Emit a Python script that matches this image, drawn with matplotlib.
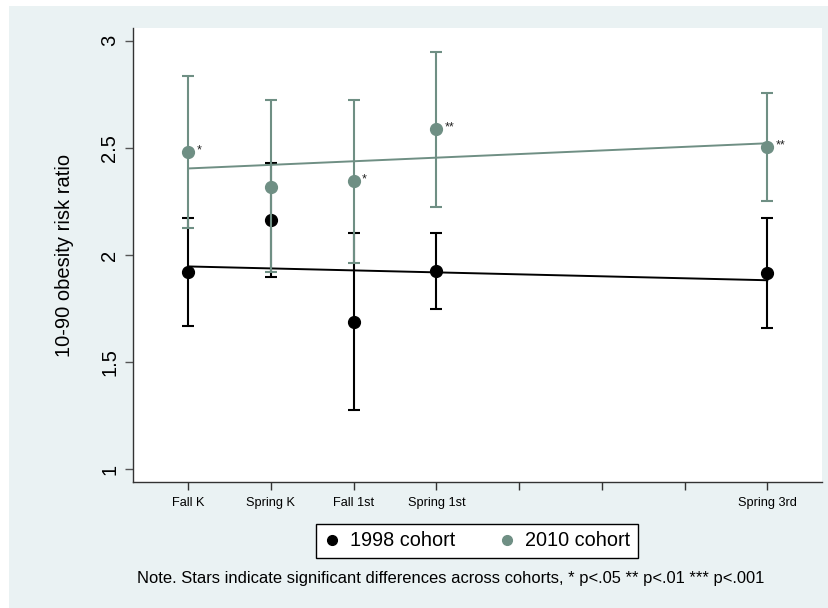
import numpy as np
import matplotlib.pyplot as plt
from matplotlib.patches import Rectangle
from matplotlib.lines import Line2D

plt.rcParams['font.family'] = ['Liberation Sans', 'DejaVu Sans']

# time points (Fall K = 1 ... Spring 3rd = 8)
waves = [1, 2, 3, 4, 8]
tick_pos = [1, 2, 3, 4, 5, 6, 7, 8]
tick_labels = ['Fall K', 'Spring K', 'Fall 1st', 'Spring 1st', '', '', '', 'Spring 3rd']

# 1998 cohort
rr_1998 = [1.921, 2.164, 1.687, 1.925, 1.916]
lo_1998 = [1.668, 1.897, 1.276, 1.748, 1.659]
hi_1998 = [2.173, 2.430, 2.103, 2.103, 2.173]

# 2010 cohort
rr_2010 = [2.481, 2.318, 2.346, 2.589, 2.505]
lo_2010 = [2.126, 1.921, 1.963, 2.224, 2.252]
hi_2010 = [2.836, 2.724, 2.724, 2.949, 2.757]
stars_2010 = ['*', '', '*', '**', '**']

black = '#000000'
green = '#6F8F84'
bg = '#EAF2F3'

fig = plt.figure(figsize=(8.29, 6.08), dpi=100, facecolor='white')
fig.patches.append(Rectangle((9 / 829, 0), 1, 1 - 6 / 608, transform=fig.transFigure,
                             facecolor=bg, edgecolor='none', zorder=-10))

ax = fig.add_axes([133 / 829, 1 - 482 / 608, (822 - 133) / 829, (482 - 28) / 608])
ax.set_facecolor('white')


def draw_cohort(x, y, lo, hi, color, z):
    x = np.array(x, float)
    y = np.array(y)
    err = [y - np.array(lo), np.array(hi) - y]
    ax.errorbar(x, y, yerr=err, fmt='o', color=color, ms=8.5, elinewidth=1.5,
                capsize=4.5, capthick=1.5, zorder=z)
    # linear fit through the point estimates
    b, a = np.polyfit(x, y, 1)
    xs = np.array([x.min(), x.max()])
    ax.plot(xs, a + b * xs, color=color, lw=1.4, zorder=z)


draw_cohort(waves, rr_1998, lo_1998, hi_1998, black, 3)
draw_cohort(waves, rr_2010, lo_2010, hi_2010, green, 4)

for xi, yi, s in zip(waves, rr_2010, stars_2010):
    if s:
        ax.annotate(s, (xi, yi), xytext=(6, 1), textcoords='offset points',
                    fontsize=9, ha='left', va='center', color='#222222')

ax.set_xlim(0.335, 8.66)
ax.set_ylim(0.94, 3.06)
ax.set_yticks([1, 1.5, 2, 2.5, 3])
ax.set_yticklabels(['1', '1.5', '2', '2.5', '3'], rotation=90, va='center', fontsize=14.5)
ax.set_xticks(tick_pos)
ax.set_xticklabels(tick_labels, fontsize=9.2)

for side in ['top', 'right']:
    ax.spines[side].set_visible(False)
for side in ['left', 'bottom']:
    ax.spines[side].set_color('#333333')
    ax.spines[side].set_linewidth(1.0)
ax.tick_params(axis='y', length=6, width=1, color='#555555', pad=4)
ax.tick_params(axis='x', length=6, width=1, color='#333333', pad=5)

ax.set_ylabel('10-90 obesity risk ratio', fontsize=14.5)
ax.yaxis.set_label_coords(-0.085, 0.5)

handles = [Line2D([], [], marker='o', ls='none', color=black, ms=7),
           Line2D([], [], marker='o', ls='none', color=green, ms=7)]
leg = fig.legend(handles, ['1998 cohort', '2010 cohort'], loc='center',
                 bbox_to_anchor=(477 / 829, 1 - 541 / 608), ncol=2, fontsize=14.3,
                 frameon=True, fancybox=False, edgecolor='black', framealpha=1,
                 handlelength=0.8, handletextpad=0.5, columnspacing=2.2,
                 borderpad=0.4)
leg.get_frame().set_linewidth(1.0)

fig.text(137 / 829, 1 - 578 / 608,
         'Note. Stars indicate significant differences across cohorts, * p<.05 ** p<.01 *** p<.001',
         fontsize=11.9, ha='left', va='center')

fig.savefig('out.png', dpi=100, facecolor=fig.get_facecolor())
